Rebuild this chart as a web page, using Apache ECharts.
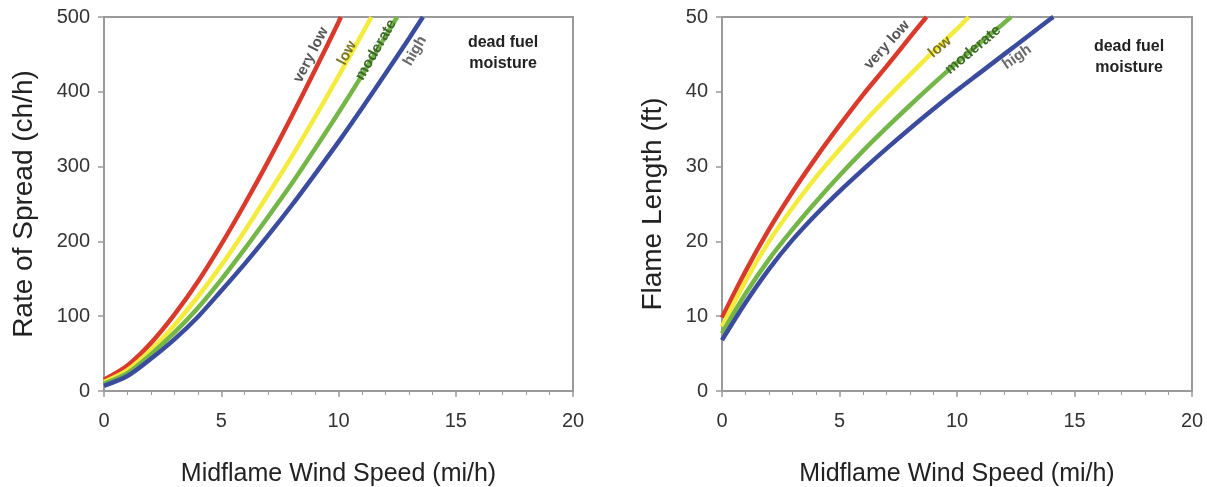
<!DOCTYPE html>
<html><head><meta charset="utf-8">
<script src="https://cdn.jsdelivr.net/npm/echarts@6/dist/echarts.min.js"></script>
<style>html,body{margin:0;padding:0;background:#fff}#c{width:1207px;height:487px}</style>
</head><body><div id="c"></div>
<script>
// ---- data ----
const moistureClasses = ['very low', 'low', 'moderate', 'high'];
const xTicks = [0, 5, 10, 15, 20];
const rosTicks = [0, 100, 200, 300, 400, 500];
const flTicks = [0, 10, 20, 30, 40, 50];

// Rate of spread (ch/h) vs midflame wind speed (mi/h)
const rosVeryLowX = [0, 1, 2, 3, 4, 5, 6, 7, 8, 9, 10, 10.1];
const rosVeryLowY = [15, 34, 64, 102, 146, 196, 250, 307, 367, 429, 493, 500];
const rosLowX = [0, 1, 2, 3, 4, 5, 6, 7, 8, 9, 10, 11, 11.4];
const rosLowY = [12, 28, 55, 88, 126, 168, 214, 263, 313, 366, 421, 477, 500];
const rosModX = [0, 1, 2, 3, 4, 5, 6, 7, 8, 9, 10, 11, 12, 12.5];
const rosModY = [10, 24, 49, 78, 111, 149, 190, 233, 277, 324, 372, 422, 474, 500];
const rosHighX = [0, 1, 2, 3, 4, 5, 6, 7, 8, 9, 10, 11, 12, 13, 13.6];
const rosHighY = [7, 20, 43, 69, 99, 134, 170, 208, 248, 290, 333, 378, 424, 471, 500];

// Flame length (ft) vs midflame wind speed (mi/h)
const flVeryLowX = [0, 1, 2, 3, 4, 5, 6, 7, 8, 8.7];
const flVeryLowY = [9.8, 16.0, 21.6, 26.6, 31.2, 35.5, 39.6, 43.4, 47.3, 50];
const flLowX = [0, 1, 2, 3, 4, 5, 6, 7, 8, 9, 10, 10.5];
const flLowY = [8.6, 14.7, 20.0, 24.5, 28.6, 32.3, 35.8, 39.1, 42.3, 45.4, 48.4, 50];
const flModX = [0, 1, 2, 3, 4, 5, 6, 7, 8, 9, 10, 11, 12, 12.3];
const flModY = [7.7, 13.0, 17.6, 21.6, 25.3, 28.8, 32.1, 35.2, 38.2, 41.1, 43.9, 46.6, 49.2, 50];
const flHighX = [0, 1, 2, 3, 4, 5, 6, 7, 8, 9, 10, 11, 12, 13, 14, 14.1];
const flHighY = [6.8, 11.8, 16.3, 20.2, 23.6, 26.7, 29.6, 32.4, 35.1, 37.7, 40.2, 42.6, 45.0, 47.4, 49.8, 50];

// ---- styles ----
const colors = ['#d93a2b', '#f4ec3c', '#74b648', '#3b4c9e'];
const FONT = '"Liberation Sans", Arial, sans-serif';
const zip = (xs, ys) => xs.map((x, i) => [x, ys[i]]);
const rosData = [zip(rosVeryLowX, rosVeryLowY), zip(rosLowX, rosLowY), zip(rosModX, rosModY), zip(rosHighX, rosHighY)];
const flData = [zip(flVeryLowX, flVeryLowY), zip(flLowX, flLowY), zip(flModX, flModY), zip(flHighX, flHighY)];

const axisCol = '#9a9a9a';
function xAxis(gi) {
  return {
    type: 'value', gridIndex: gi, min: xTicks[0], max: xTicks[xTicks.length - 1], interval: xTicks[1] - xTicks[0],
    name: 'Midflame Wind Speed (mi/h)', nameLocation: 'middle', nameGap: 71,
    nameTextStyle: { fontFamily: FONT, fontSize: 25, color: '#222' },
    axisLine: { show: true, lineStyle: { color: axisCol, width: 2 } },
    axisTick: { show: true, length: 6, lineStyle: { color: axisCol, width: 1.5 } },
    minorTick: { show: true, splitNumber: 5, length: 4, lineStyle: { color: axisCol } },
    axisLabel: { fontFamily: FONT, fontSize: 20, color: '#333', margin: 20 },
    splitLine: { show: false }
  };
}
function yAxis(gi, ticks, name, gap) {
  return {
    type: 'value', gridIndex: gi, min: ticks[0], max: ticks[ticks.length - 1], interval: ticks[1] - ticks[0],
    name: name, nameLocation: 'middle', nameGap: gap,
    nameTextStyle: { fontFamily: FONT, fontSize: 28, color: '#222' },
    axisLine: { show: true, lineStyle: { color: axisCol, width: 2 } },
    axisTick: { show: true, length: 6, lineStyle: { color: axisCol, width: 1.5 } },
    axisLabel: { fontFamily: FONT, fontSize: 20, color: '#333', margin: 14 },
    splitLine: { show: false }
  };
}
const series = [];
[rosData, flData].forEach((set, gi) => {
  set.forEach((d, i) => series.push({
    type: 'line', name: moistureClasses[i], xAxisIndex: gi, yAxisIndex: gi, data: d,
    smooth: 0.3, symbol: 'none', lineStyle: { color: colors[i], width: 4.5 }, z: 2 + i
  }));
});

function lbl(x, y, text, rot, color, size) {
  return { type: 'text', x: x, y: y, rotation: rot * Math.PI / 180, z: 20,
    style: { text: text, fill: color, font: 'bold ' + size + 'px ' + FONT, align: 'center', verticalAlign: 'middle' } };
}
const chart = echarts.init(document.getElementById('c'), null, { renderer: 'canvas' });
chart.setOption({
  animation: false,
  backgroundColor: '#fff',
  grid: [
    { left: 104, right: 634, top: 17, bottom: 96, show: true, borderColor: axisCol, borderWidth: 2, outerBoundsMode: 'none', containLabel: false },
    { left: 722, right: 15, top: 17, bottom: 96, show: true, borderColor: axisCol, borderWidth: 2, outerBoundsMode: 'none', containLabel: false }
  ],
  xAxis: [xAxis(0), xAxis(1)],
  yAxis: [yAxis(0, rosTicks, 'Rate of Spread (ch/h)', 66), yAxis(1, flTicks, 'Flame Length (ft)', 55)],
  series: series,
  graphic: [
    lbl(311, 55, moistureClasses[0], 63, '#555', 15),
    lbl(347, 53, moistureClasses[1], 62, '#7a7620', 15),
    lbl(376, 50, moistureClasses[2], 60, '#3d6a28', 15),
    lbl(415, 51, moistureClasses[3], 60, '#6a6a6a', 15),
    lbl(887, 45, moistureClasses[0], 48, '#555', 15),
    lbl(940, 47, moistureClasses[1], 40, '#7a7620', 15),
    lbl(973, 50, moistureClasses[2], 40, '#3d6a28', 15),
    lbl(1017, 57, moistureClasses[3], 35, '#6a6a6a', 15),
    { type: 'text', x: 503, y: 53, z: 20, style: { text: 'dead fuel\nmoisture', fill: '#222', font: 'bold 16px ' + FONT, align: 'center', verticalAlign: 'middle', lineHeight: 21 } },
    { type: 'text', x: 1129, y: 57, z: 20, style: { text: 'dead fuel\nmoisture', fill: '#222', font: 'bold 16px ' + FONT, align: 'center', verticalAlign: 'middle', lineHeight: 21 } }
  ]
});
</script></body></html>
